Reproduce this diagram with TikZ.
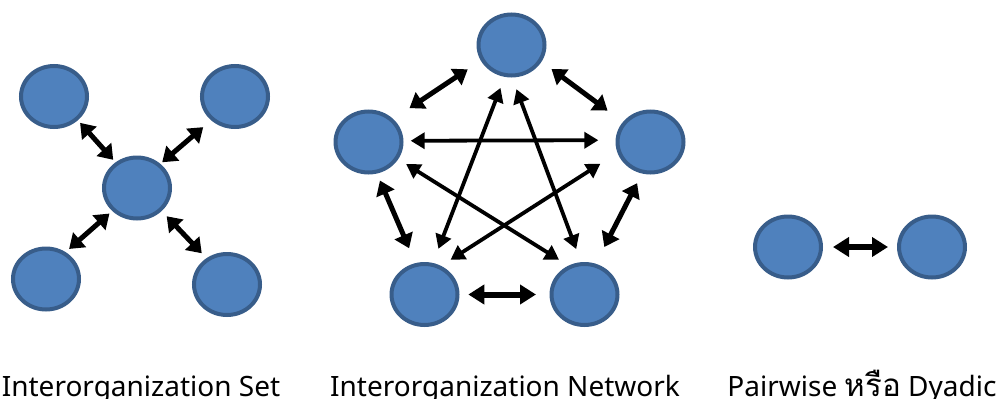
\documentclass[tikz,border=0pt]{standalone}
\usepackage{fontspec}
\setmainfont{Noto Sans}
\newfontfamily\thaifont[Script=Thai,Scale=1.12]{Loma}
\usetikzlibrary{arrows.meta,shapes.geometric}
\definecolor{orgfill}{HTML}{4F81BD}
\definecolor{orgline}{HTML}{385D8A}

\begin{document}
\begin{tikzpicture}[x=1pt,y=-1pt,
  org/.style={ellipse, draw=orgline, fill=orgfill, line width=4pt,
              minimum width=66pt, minimum height=61pt, inner sep=0pt},
  link/.style={line width=5pt,
               {Triangle[length=14pt,width=19pt]}-{Triangle[length=14pt,width=19pt]}},
  thinlink/.style={line width=3.8pt,
               {Triangle[length=14pt,width=16pt]}-{Triangle[length=14pt,width=16pt]}},
  widelink/.style={line width=6pt,
               {Triangle[length=16pt,width=19pt]}-{Triangle[length=16pt,width=19pt]}},
  caption/.style={anchor=base, inner sep=0pt, font=\fontsize{28pt}{32pt}\selectfont}
]
\useasboundingbox (0,0) rectangle (999,399);
\clip (0,0) rectangle (999,399);

% --- organization set: a focal organization and four partners
\node[org] (sTL) at (54,96.5) {};
\node[org] (sTR) at (235,96.5) {};
\node[org] (sC)  at (137,188) {};
\node[org] (sBL) at (46,279) {};
\node[org] (sBR) at (227,284.5) {};

\draw[link, shorten <=3.4pt, shorten >=3.4pt] (sTL.-45.5) -- (sC.130.6);
\draw[link, shorten <=10.5pt, shorten >=2.4pt] (sTR.225.5) -- (sC.46.1);
\draw[link, shorten <=4.7pt, shorten >=3.8pt] (sBL.54.6) -- (sC.223.9);
\draw[link, shorten <=6.8pt, shorten >=7.2pt] (sBR.128.4) -- (sC.-43);

% --- organization network: every pair linked
\node[org] (nT)  at (511.5,45) {};
\node[org] (nL)  at (368.5,142) {};
\node[org] (nR)  at (650.5,142) {};
\node[org] (nBL) at (424.5,294.5) {};
\node[org] (nBR) at (584.5,294.5) {};

\draw[link, shorten <=15.7pt, shorten >=19.6pt] (nT.207.3) -- (nL.43.9);
\draw[link, shorten <=12.4pt, shorten >=19.1pt] (nT.-29.1) -- (nR.144.3);
\draw[link, shorten <=7.6pt, shorten >=16.1pt] (nL.-75.9) -- (nBL.106.4);
\draw[link, shorten <=10.8pt, shorten >=18.8pt] (nR.-105) -- (nBR.70.5);
\draw[widelink, shorten <=8.8pt, shorten >=13.5pt] (nBL.0) -- (nBR.180);

\draw[thinlink, shorten <=7.2pt, shorten >=17.2pt] (nL.2.7) -- (nR.177.8);
\draw[thinlink, shorten <=11.8pt, shorten >=15.2pt] (nT.-102.8) -- (nBL.75.2);
\draw[thinlink, shorten <=12.5pt, shorten >=14pt] (nT.-89.7) -- (nBR.96.4);
\draw[thinlink, shorten <=9.3pt, shorten >=11.1pt] (nL.-30.7) -- (nBR.119.5);
\draw[thinlink, shorten <=20.3pt, shorten >=11.3pt] (nR.198.3) -- (nBL.60);

% --- dyadic relation
\node[org] (pL) at (788,247) {};
\node[org] (pR) at (932,247) {};
\draw[widelink, shorten <=10pt, shorten >=9pt] (pL.0) -- (pR.180);

% --- captions
\node[caption] (capSet)  at (141,396) {Interorganization Set};
\node[caption] (capNet)  at (505,396) {Interorganization Network};
\node[caption] (capPair) at (862,396) {Pairwise {\thaifont หรือ} Dyadic};
\end{tikzpicture}
\end{document}
